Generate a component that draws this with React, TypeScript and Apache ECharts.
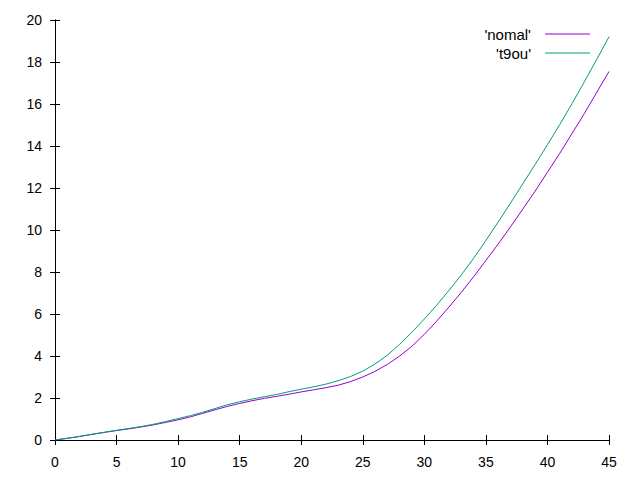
import React, { useEffect, useRef } from "react";
import * as echarts from "echarts";

const xValues = [
  0, 1, 2, 3, 4, 5, 6, 7, 8, 9, 10, 11, 12, 13, 14, 15, 16, 17, 18, 19, 20, 21, 22,
  23, 24, 25, 26, 27, 28, 29, 30, 31, 32, 33, 34, 35, 36, 37, 38, 39, 40, 41, 42, 43,
  44, 45,
];
const nomal = [
  0, 0.08, 0.17, 0.27, 0.36, 0.45, 0.53, 0.62, 0.72, 0.84, 0.96, 1.1, 1.27, 1.44, 1.6,
  1.74, 1.87, 1.98, 2.08, 2.18, 2.29, 2.39, 2.49, 2.61, 2.78, 3.0, 3.27, 3.6, 4.0,
  4.47, 5.03, 5.66, 6.33, 7.03, 7.77, 8.55, 9.33, 10.15, 11.0, 11.85, 12.75, 13.65,
  14.6, 15.55, 16.55, 17.55,
];
const t9ou = [
  0, 0.08, 0.17, 0.27, 0.37, 0.46, 0.55, 0.64, 0.75, 0.88, 1.02, 1.16, 1.32, 1.5, 1.68,
  1.82, 1.95, 2.06, 2.17, 2.3, 2.42, 2.53, 2.66, 2.82, 3.02, 3.28, 3.62, 4.04, 4.56,
  5.14, 5.76, 6.42, 7.12, 7.86, 8.65, 9.5, 10.38, 11.28, 12.2, 13.12, 14.06, 15.02,
  16.02, 17.06, 18.12, 19.2,
];
const seriesNames = ["'nomal'", "'t9ou'"];
const seriesColors = ["#9400d3", "#009e73"];

const FONT = "'Liberation Sans', Arial, sans-serif";

export default function App() {
  const ref = useRef<HTMLDivElement>(null);
  useEffect(() => {
    if (!ref.current) return;
    const chart = echarts.init(ref.current, null, { renderer: "svg" });
    const pairs = (ys: number[]) => xValues.map((x, i) => [x, ys[i]]);
    const axisLine = { show: true, lineStyle: { color: "#000", width: 1 } };
    const axisTick = { show: true, inside: true, length: 5, lineStyle: { color: "#000" } };
    const label = { color: "#000", fontSize: 14, fontFamily: FONT };
    chart.setOption({
      animation: false,
      backgroundColor: "#fff",
      grid: { left: 55, right: 31, top: 20, bottom: 40, containLabel: false },
      xAxis: [
        {
          type: "value",
          min: 0,
          max: 45,
          interval: 5,
          position: "bottom",
          axisLine,
          axisTick,
          axisLabel: { ...label, margin: 15 },
          splitLine: { show: false },
        },
        {
          type: "value",
          min: 0,
          max: 45,
          interval: 5,
          position: "top",
          axisLine,
          axisTick,
          axisLabel: { show: false },
          splitLine: { show: false },
        },
      ],
      yAxis: [
        {
          type: "value",
          min: 0,
          max: 20,
          interval: 2,
          position: "left",
          axisLine,
          axisTick,
          axisLabel: { ...label, margin: 13 },
          splitLine: { show: false },
        },
        {
          type: "value",
          min: 0,
          max: 20,
          interval: 2,
          position: "right",
          axisLine,
          axisTick,
          axisLabel: { show: false },
          splitLine: { show: false },
        },
      ],
      legend: { show: false },
      series: [
        {
          name: seriesNames[0],
          type: "line",
          data: pairs(nomal),
          showSymbol: false,
          lineStyle: { color: seriesColors[0], width: 1 },
          itemStyle: { color: seriesColors[0] },
        },
        {
          name: seriesNames[1],
          type: "line",
          data: pairs(t9ou),
          showSymbol: false,
          lineStyle: { color: seriesColors[1], width: 1 },
          itemStyle: { color: seriesColors[1] },
        },
      ],
      graphic: seriesNames.flatMap((name, i) => [
        {
          type: "text",
          x: 531,
          y: 34 + i * 19,
          style: {
            text: name,
            fill: "#000",
            font: `15px ${FONT}`,
            textAlign: "right",
            textVerticalAlign: "middle",
          },
        },
        {
          type: "line",
          shape: { x1: 545, y1: 34 + i * 19, x2: 590, y2: 34 + i * 19 },
          style: { stroke: seriesColors[i], lineWidth: 1 },
        },
      ]),
    });
    return () => chart.dispose();
  }, []);
  return (
    <div
      ref={ref}
      style={{ position: "fixed", left: 0, top: 0, width: 640, height: 480 }}
    />
  );
}
